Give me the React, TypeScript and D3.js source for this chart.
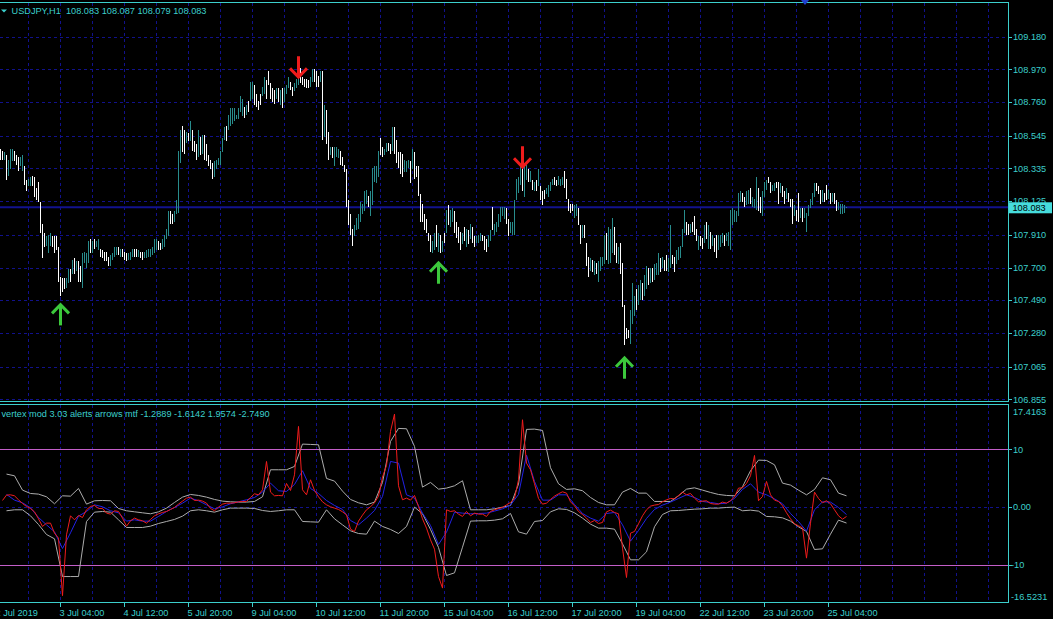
import React from 'react';
import * as d3 from 'd3';

// USDJPY H1 bar chart with "vertex mod" sub-window, MT4 style

const W = 1053;
const H = 619;
const FONT = '"Liberation Sans", Arial, sans-serif';
const FG = '#3ccfcc';
const GRID = '#11118c';
const BAR_UP = '#288c8c';
const BAR_DOWN = '#ffffff';

const symbolTitle = 'USDJPY,H1  108.083 108.087 108.079 108.083';
const subTitle = 'vertex mod 3.03 alerts arrows mtf -1.2889 -1.6142 1.9574 -2.7490';

// bar highs / lows (one per H1 bar, 2 Jul 22:00 .. 25 Jul)
const barHigh = [
  108.46,108.45,108.44,108.42,108.39,108.46,108.46,108.45,108.42,108.41,
  108.41,108.42,108.35,108.26,108.27,108.28,108.29,108.28,108.21,108.25,
  108.12,107.98,107.92,107.90,107.91,107.92,107.90,107.90,107.90,107.83,
  107.64,107.63,107.63,107.63,107.69,107.69,107.75,107.76,107.74,107.74,
  107.71,107.79,107.80,107.79,107.87,107.88,107.87,107.88,107.87,107.88,
  107.82,107.81,107.80,107.80,107.77,107.78,107.79,107.83,107.83,107.83,
  107.82,107.82,107.80,107.79,107.79,107.80,107.82,107.82,107.82,107.81,
  107.80,107.80,107.80,107.81,107.82,107.82,107.83,107.88,107.88,107.87,
  107.86,107.88,107.91,107.95,108.06,108.06,108.04,108.06,108.13,108.45,
  108.58,108.61,108.58,108.57,108.56,108.64,108.58,108.51,108.49,108.58,
  108.54,108.55,108.55,108.49,108.42,108.39,108.37,108.38,108.39,108.40,
  108.45,108.53,108.60,108.61,108.68,108.72,108.72,108.72,108.68,108.72,
  108.80,108.78,108.73,108.74,108.77,108.89,108.89,108.87,108.81,108.77,
  108.81,108.86,108.92,108.90,108.96,108.88,108.85,108.84,108.85,108.85,
  108.84,108.85,108.85,108.87,108.92,108.89,108.86,108.88,108.91,108.93,
  108.98,108.92,108.91,108.91,108.90,108.92,108.97,108.97,108.96,108.93,
  108.96,108.96,108.74,108.71,108.57,108.47,108.47,108.47,108.47,108.46,
  108.45,108.41,108.36,108.33,108.13,108.04,107.95,107.97,108.02,108.04,
  108.12,108.11,108.19,108.20,108.16,108.19,108.34,108.35,108.35,108.45,
  108.53,108.47,108.46,108.50,108.50,108.49,108.60,108.60,108.52,108.44,
  108.44,108.43,108.39,108.38,108.39,108.38,108.46,108.44,108.35,108.35,
  108.17,108.11,108.04,108.01,107.92,107.91,107.87,107.92,107.97,107.92,
  107.91,107.87,107.92,108.07,108.10,108.07,108.08,108.06,107.99,107.96,
  107.93,107.92,107.96,107.95,107.94,107.98,107.96,107.90,107.90,107.91,
  107.92,107.91,107.90,107.88,107.91,107.94,108.09,107.98,107.99,108.04,
  108.09,108.09,108.09,108.08,108.01,107.99,107.99,108.13,108.27,108.28,
  108.35,108.34,108.37,108.36,108.33,108.32,108.26,108.25,108.26,108.33,
  108.22,108.19,108.20,108.21,108.23,108.25,108.27,108.28,108.26,108.29,
  108.27,108.28,108.32,108.27,108.14,108.11,108.11,108.10,108.11,108.08,
  107.97,107.97,107.97,107.86,107.77,107.76,107.75,107.74,107.73,107.74,
  107.77,107.77,107.91,107.92,107.96,107.95,108.02,107.96,107.86,107.83,
  107.86,107.73,107.46,107.31,107.30,107.43,107.60,107.52,107.56,107.59,
  107.62,107.60,107.65,107.71,107.70,107.70,107.70,107.72,107.73,107.79,
  107.76,107.77,107.75,107.78,107.76,107.97,107.78,107.77,107.81,107.83,
  107.84,107.95,108.07,107.99,107.98,107.98,107.99,108.03,107.95,107.90,
  107.90,107.89,107.97,107.99,107.97,107.93,107.91,107.89,107.91,107.91,
  107.91,107.92,107.91,107.92,107.93,108.07,108.08,108.07,108.06,108.18,
  108.19,108.18,108.15,108.19,108.20,108.21,108.15,108.14,108.28,108.21,
  108.15,108.19,108.25,108.26,108.28,108.25,108.23,108.24,108.25,108.25,
  108.24,108.22,108.19,108.21,108.18,108.14,108.14,108.10,108.07,108.18,
  108.08,108.08,108.08,108.05,108.10,108.14,108.18,108.24,108.24,108.22,
  108.20,108.20,108.18,108.23,108.20,108.18,108.18,108.18,108.13,108.12,
  108.11,108.11,108.10,108.087,
];

const barLow = [
  108.39,108.39,108.39,108.26,108.29,108.33,108.38,108.38,108.36,108.32,
  108.35,108.32,108.23,108.19,108.22,108.22,108.22,108.15,108.13,108.12,
  107.92,107.76,107.83,107.84,107.79,107.84,107.83,107.79,107.81,107.61,
  107.52,107.54,107.56,107.57,107.60,107.61,107.66,107.66,107.68,107.61,
  107.61,107.57,107.73,107.70,107.73,107.79,107.79,107.82,107.83,107.81,
  107.77,107.76,107.74,107.74,107.71,107.71,107.75,107.77,107.78,107.78,
  107.77,107.77,107.75,107.74,107.75,107.75,107.77,107.77,107.77,107.77,
  107.76,107.75,107.76,107.76,107.77,107.77,107.78,107.79,107.81,107.81,
  107.81,107.82,107.83,107.88,107.90,107.98,107.98,107.99,108.04,108.05,
  108.37,108.44,108.43,108.50,108.51,108.51,108.45,108.44,108.39,108.41,
  108.42,108.43,108.39,108.38,108.35,108.33,108.27,108.28,108.33,108.36,
  108.36,108.44,108.52,108.51,108.58,108.61,108.62,108.64,108.65,108.65,
  108.70,108.67,108.66,108.68,108.70,108.77,108.78,108.74,108.73,108.71,
  108.74,108.80,108.81,108.78,108.87,108.78,108.76,108.75,108.78,108.76,
  108.74,108.72,108.76,108.81,108.85,108.84,108.80,108.83,108.85,108.87,
  108.88,108.87,108.86,108.85,108.85,108.86,108.89,108.89,108.86,108.86,
  108.89,108.52,108.54,108.49,108.39,108.42,108.40,108.35,108.41,108.40,
  108.36,108.35,108.31,108.09,107.97,107.91,107.84,107.90,107.94,107.95,
  107.99,108.04,108.06,108.11,108.09,108.03,108.10,108.25,108.24,108.28,
  108.42,108.41,108.42,108.44,108.45,108.43,108.45,108.43,108.37,108.34,
  108.30,108.28,108.31,108.31,108.34,108.24,108.33,108.27,108.28,108.16,
  107.99,107.99,107.94,107.92,107.87,107.80,107.79,107.81,107.83,107.80,
  107.79,107.80,107.86,107.92,107.97,107.96,107.99,107.92,107.89,107.86,
  107.81,107.85,107.87,107.83,107.85,107.88,107.86,107.83,107.86,107.86,
  107.87,107.87,107.81,107.80,107.83,107.87,107.94,107.91,107.93,107.96,
  107.99,108.03,108.01,107.98,107.90,107.92,107.91,107.91,108.13,108.18,
  108.23,108.19,108.15,108.26,108.25,108.25,108.20,108.19,108.19,108.22,
  108.13,108.10,108.14,108.17,108.15,108.19,108.23,108.23,108.22,108.23,
  108.22,108.23,108.21,108.14,108.06,108.05,108.06,108.02,108.03,107.97,
  107.85,107.89,107.89,107.71,107.64,107.68,107.67,107.65,107.66,107.61,
  107.68,107.71,107.72,107.75,107.72,107.73,107.79,107.78,107.73,107.72,
  107.66,107.45,107.20,107.24,107.25,107.21,107.34,107.39,107.43,107.46,
  107.49,107.49,107.52,107.56,107.59,107.60,107.61,107.62,107.65,107.65,
  107.67,107.70,107.68,107.68,107.67,107.70,107.72,107.67,107.72,107.75,
  107.76,107.83,107.92,107.91,107.91,107.92,107.93,107.91,107.87,107.81,
  107.84,107.82,107.86,107.88,107.82,107.82,107.84,107.80,107.76,107.81,
  107.83,107.86,107.84,107.87,107.84,107.81,107.97,107.99,107.99,108.03,
  108.12,108.12,108.09,108.10,108.11,108.11,108.09,108.08,108.07,108.06,
  108.05,108.03,108.15,108.20,108.24,108.18,108.19,108.19,108.21,108.11,
  108.18,108.15,108.11,108.14,108.12,108.09,107.98,108.03,108.00,107.99,
  108.02,107.99,108.02,107.93,108.03,108.08,108.10,108.15,108.19,108.17,
  108.11,108.12,108.12,108.13,108.14,108.11,108.12,108.11,108.06,108.07,
  108.04,108.04,108.05,108.079,
];

// u = bull bar, d = bear bar
const barDir = (
  'dduduuuddd' + 'uudduudddd' + 'ddduuudddd' + 'ddduududud' + 'duuuududuu' +
  'ddddduuuud' + 'uddduuuddu' + 'dduuuuuuud' + 'duuuudduuu' + 'uddududddu' +
  'duddddduuu' + 'uuuduuuuuu' + 'uududuuddd' + 'duudddddud' + 'uduuudduuu' +
  'ddddduuddd' + 'ududduduuu' + 'ddddddduuu' + 'uuuuduuuuu' + 'dduudduddd' +
  'dduuududdd' + 'dddddduudu' + 'dududuuddd' + 'dudududduu' + 'uddduuduuu' +
  'uuudduuuuu' + 'uduudududu' + 'ddduuuuddu' + 'uuddddduud' + 'dudddududu' +
  'uuuduuuddu' + 'ddddduuudu' + 'uduududuuu' + 'dudduudduu' + 'uuuddudddu' +
  'ddudududdu' + 'uuduuuuuuu' + 'udduuduuud' + 'duuudduudd' + 'uddudddudd' +
  'uduuuuuudd' + 'duddududdu' + 'uuuu'
).split('');

const lastPrice = 108.083;
const priceTicks = [109.18, 108.97, 108.76, 108.545, 108.335, 108.125, 107.91, 107.7, 107.49, 107.28, 107.065, 106.855];
const priceTickLabels = ['109.180', '108.970', '108.760', '108.545', '108.335', '108.125', '107.910', '107.700', '107.490', '107.280', '107.065', '106.855'];

const timeTickBars = [-2, 30, 62, 94, 126, 158, 190, 222, 254, 286, 318, 350, 382, 414];
const timeTickLabels = ['2 Jul 2019', '3 Jul 04:00', '4 Jul 12:00', '5 Jul 20:00', '9 Jul 04:00', '10 Jul 12:00',
  '11 Jul 20:00', '15 Jul 04:00', '16 Jul 12:00', '17 Jul 20:00', '19 Jul 04:00', '22 Jul 12:00', '23 Jul 20:00', '25 Jul 04:00'];

// signal arrows
const upArrowBars = [30, 219, 312];
const upArrowPrices = [107.47, 107.737, 107.128];
const downArrowBars = [149, 261];
const downArrowPrices = [108.913, 108.336];

// indicator: fast line (every 2nd bar), slow line and bands (every 4th bar)
const redLine = [
  1.15,2.08,2.13,1.96,1.27,0.63,0.12,-0.23,-0.81,-2.02,
  -3.34,-2.77,-2.77,-4.5,-5.36,-15.3,-4.79,-1.5,-2.19,-1.44,
  -1.79,-0.46,0.12,0.29,-0.23,-0.23,-1.04,-1.21,-0.63,-0.75,
  -1.9,-3.29,-2.36,-1.9,-2.19,-2.36,-2.77,-2.13,-1.5,-1.15,
  -0.92,-0.75,-0.4,-0.06,0.52,1.04,1.56,1.73,1.15,1.21,
  1.04,0.69,-0.23,-0.63,0,0.52,0.69,0.69,0.75,0.92,
  0.98,0.98,1.67,2.31,2.13,3.0,7.9,2.6,1.96,2.02,
  1.96,4.09,2.88,5.59,13.96,3.0,2.13,4.73,2.88,1.79,
  0.92,0.4,0.06,-0.17,-0.4,-0.81,-1.33,-3.81,-4.21,-2.42,
  -1.38,-0.46,0.06,0.75,1.9,5.19,7.21,13.09,16.09,3.69,
  1.27,1.56,1.21,2.02,0.12,-2.02,-3.63,-5.65,-7.27,-12.0,
  -14.0,-0.46,-0.75,-0.63,-1.21,-1.61,-0.75,-1.5,-1.04,-1.21,
  -1.21,-1.61,-0.75,-0.46,-0.23,-0.06,0.4,0.81,1.5,4.73,
  15.11,7.61,6.46,4.04,1.5,0.52,0.69,1.33,1.9,2.31,
  2.65,2.42,0.92,0.23,-0.75,-1.27,-1.9,-2.65,-2.31,-2.83,
  -2.65,-0.81,-0.52,-0.92,-1.15,-7.09,-12.17,-4.5,-4.21,-2.88,
  -1.5,-0.46,0.17,0.35,0.46,0.92,1.27,1.5,1.44,2.02,
  2.6,2.13,2.36,1.56,0.92,1.04,1.1,0.63,0.52,0.52,
  0.87,0.69,1.1,1.79,3.29,3.34,4.09,5.42,8.94,1.1,
  1.85,4.44,2.13,1.21,0.98,0.23,-0.98,-2.02,-2.88,-3.23,
  -3.58,-8.82,-2.77,2.6,1.5,0.75,1.1,0.58,-0.46,-1.5,
  -2.08,-1.6142,
];

const blueLine = [
  2.19,1.21,0.75,-0.12,-1.79,-3.06,-4.27,-7.15,-4.44,-1.56,
  -0.75,0.4,0.06,-0.63,-0.98,-2.42,-2.19,-2.42,-2.42,-1.61,
  -0.75,-0.06,0.69,1.56,1.1,0.4,-0.29,0.06,0.58,0.92,
  1.27,1.67,2.6,4.15,2.83,2.71,3.92,6.29,3.23,2.36,
  1.15,0.29,-0.4,-2.31,-3.06,-1.9,-0.58,1.85,7.9,7.61,
  2.13,1.56,-1.04,-3.17,-6.46,-4.33,-0.87,-1.04,-1.15,-1.1,
  -1.04,-0.69,-0.29,0.35,2.19,9.0,4.44,1.21,1.21,2.13,
  2.13,0.46,-1.1,-1.9,-2.42,-1.1,-0.92,-3.06,-5.88,-4.04,
  -1.96,-0.4,0.35,0.87,1.5,2.13,1.67,0.98,0.81,0.58,
  0.69,1.5,3.06,4.04,2.6,2.13,1.44,0.58,-1.1,-2.48,
  -4.15,-0.46,0.92,0.87,-0.06,-1.2889,
];

const upperBand = [
  5.71,5.42,2.94,2.36,2.25,1.79,0.58,1.96,1.9,3.23,
  0.52,1.1,1.15,1.1,-0.23,-0.63,-0.81,-0.98,-1.15,-0.81,
  -0.17,0.81,1.73,2.19,2.02,1.73,1.33,1.04,0.92,0.87,
  0.87,0.98,1.79,6.46,6.46,6.46,7.04,10.9,10.84,10.78,
  4.96,4.5,2.77,1.33,0.75,0.4,0.87,4.27,11.36,13.61,
  13.55,10.5,3.46,4.27,3.11,3.29,3.69,4.56,-0.46,-0.46,
  -0.46,-0.29,0,0.29,3.98,13.44,13.49,13.26,6.81,4.04,
  3.06,3.17,2.83,1.67,0.81,0.4,0.4,2.6,3.23,2.42,
  2.42,0.98,0.98,0.98,1.96,3.11,3.34,2.94,2.54,2.19,
  2.02,1.96,3.52,6.29,8.13,8.07,7.32,4.15,3.81,2.94,
  2.13,3.06,5.07,4.73,2.42,1.9574,
];

const lowerBand = [
  -0.63,-0.46,-0.46,-1.5,-3.0,-4.73,-5.48,-12.0,-12.0,-12.0,
  -2.48,-0.87,-0.75,-0.87,-2.19,-3.52,-3.52,-3.52,-3.29,-2.83,
  -2.48,-2.13,-1.56,-0.63,-0.46,-0.63,-0.87,-0.46,-0.17,-0.17,
  -0.17,-0.23,-0.58,-0.75,-0.63,-0.46,-0.46,-2.48,-2.54,-2.6,
  -0.46,-2.02,-3.06,-4.09,-4.56,-4.67,-2.42,-3.34,-3.86,-4.56,
  -3.34,0,-1.15,-3.86,-6.98,-11.82,-11.36,-6.92,-2.42,-2.36,
  -2.36,-2.25,-2.02,-1.1,-4.27,-4.67,-2.48,-2.31,-0.81,-0.29,
  -0.4,-0.98,-1.9,-2.94,-3.63,-3.63,-3.81,-6.34,-9.11,-9.11,
  -7.73,-3.4,-1.27,-0.63,-0.58,-0.46,-0.35,-0.29,-0.17,-0.17,
  -0.06,0,-0.63,-0.52,-0.69,-1.61,-1.67,-1.85,-2.42,-3.4,
  -4.21,-7.32,-7.21,-4.67,-2.25,-2.749,
];

const subMax = 17.4163;
const subMin = -16.5231;
const levelValues = [10, -10];

const PANE_R = 1008.5;
const MAIN_TOP = 2.5;
const MAIN_BOT = 401.5;
const SUB_TOP = 404.5;
const SUB_BOT = 602.5;

const Arrow: React.FC<{ x: number; y: number; down?: boolean; color: string }> = ({ x, y, down, color }) => (
  <g transform={`translate(${x},${y}) scale(1,${down ? -1 : 1})`} fill="none" stroke={color} strokeWidth={3}>
    <path d="M0,1 V22" />
    <path d="M-8.5,10 L0,1.2 L8.5,10" strokeLinejoin="miter" />
  </g>
);

export default function App() {
  const x = d3.scaleLinear().domain([0, 423]).range([0.5, 846.5]);
  const y = d3.scaleLinear().domain([106.855, 109.18]).range([399.3, 36.7]);
  const ys = d3.scaleLinear().domain([subMin, subMax]).range([602.7, 406.4]);

  const gridBars = d3.range(14, 500, 16).filter(b => x(b) < PANE_R - 2);

  const fastPath = d3.line<number>().x((_, j) => x(2 * j + 1)).y(v => ys(v))(redLine) || '';
  const slowLine = d3.line<number>().x((_, k) => x(4 * k + 3)).y(v => ys(v));
  const bluePath = slowLine(blueLine) || '';
  const upperPath = slowLine(upperBand) || '';
  const lowerPath = slowLine(lowerBand) || '';

  const yLast = y(lastPrice);
  const txt = { fontFamily: FONT, fontSize: 9.2, fill: FG } as const;

  return (
    <svg width={W} height={H} style={{ position: 'absolute', left: 0, top: 0, display: 'block' }}>
      <defs>
        <clipPath id="mainClip"><rect x={0} y={MAIN_TOP + 0.5} width={PANE_R} height={MAIN_BOT - MAIN_TOP - 1} /></clipPath>
        <clipPath id="subClip"><rect x={0} y={SUB_TOP + 0.5} width={PANE_R} height={SUB_BOT - SUB_TOP - 1} /></clipPath>
      </defs>
      <rect x={0} y={0} width={W} height={H} fill="#000" />

      {/* main pane grid */}
      <g clipPath="url(#mainClip)" stroke={GRID} strokeWidth={1} strokeDasharray="3,3" shapeRendering="crispEdges">
        {priceTicks.map((p, i) => (
          <line key={'h' + i} x1={0} x2={PANE_R} y1={Math.round(y(p)) + 0.5} y2={Math.round(y(p)) + 0.5} />
        ))}
        {gridBars.map(b => (
          <line key={'v' + b} x1={x(b)} x2={x(b)} y1={MAIN_TOP} y2={MAIN_BOT} />
        ))}
      </g>

      {/* price line */}
      <line x1={0} x2={PANE_R} y1={yLast - 0.5} y2={yLast - 0.5} stroke="#12128e" strokeWidth={2} />

      {/* bars */}
      <g clipPath="url(#mainClip)" shapeRendering="crispEdges" strokeWidth={1}>
        {barHigh.map((hi, i) => {
          const lo = barLow[i];
          const y1 = y(hi);
          let y2 = y(lo);
          if (y2 - y1 < 1) y2 = y1 + 1;
          return (
            <line key={i} x1={x(i)} x2={x(i)} y1={y1} y2={y2}
              stroke={barDir[i] === 'd' ? BAR_DOWN : BAR_UP} />
          );
        })}
      </g>

      {/* signal arrows */}
      <g clipPath="url(#mainClip)">
        {upArrowBars.map((b, i) => (
          <Arrow key={'u' + i} x={x(b)} y={y(upArrowPrices[i])} color="#3cc83c" />
        ))}
        {downArrowBars.map((b, i) => (
          <Arrow key={'d' + i} x={x(b)} y={y(downArrowPrices[i])} down color="#ee1c1c" />
        ))}
      </g>

      {/* sub window grid and levels */}
      <g clipPath="url(#subClip)" shapeRendering="crispEdges">
        <g stroke={GRID} strokeWidth={1} strokeDasharray="3,3">
          <line x1={0} x2={PANE_R} y1={Math.round(ys(0)) + 0.5} y2={Math.round(ys(0)) + 0.5} />
          {gridBars.map(b => (
            <line key={'sv' + b} x1={x(b)} x2={x(b)} y1={SUB_TOP} y2={SUB_BOT} />
          ))}
        </g>
        {levelValues.map(v => (
          <line key={'l' + v} x1={0} x2={PANE_R} y1={Math.round(ys(v)) + 0.5} y2={Math.round(ys(v)) + 0.5}
            stroke="#c25ec8" strokeWidth={1} />
        ))}
      </g>

      {/* indicator lines */}
      <g clipPath="url(#subClip)" fill="none" strokeWidth={1} strokeLinejoin="round">
        <path d={upperPath} stroke="#acacac" />
        <path d={lowerPath} stroke="#acacac" />
        <path d={bluePath} stroke="#2222e6" />
        <path d={fastPath} stroke="#f01c1c" />
      </g>

      {/* frames */}
      <g stroke={FG} strokeWidth={1} fill="none" shapeRendering="crispEdges">
        <line x1={0} x2={PANE_R} y1={MAIN_TOP} y2={MAIN_TOP} />
        <line x1={0} x2={PANE_R} y1={MAIN_BOT} y2={MAIN_BOT} />
        <line x1={PANE_R} x2={PANE_R} y1={MAIN_TOP} y2={MAIN_BOT} />
        <line x1={0} x2={PANE_R} y1={SUB_TOP} y2={SUB_TOP} />
        <line x1={0} x2={PANE_R} y1={SUB_BOT} y2={SUB_BOT} />
        <line x1={PANE_R} x2={PANE_R} y1={SUB_TOP} y2={SUB_BOT} />
        {priceTicks.map((p, i) => (
          <line key={'pt' + i} x1={PANE_R} x2={PANE_R + 3} y1={Math.round(y(p)) + 0.5} y2={Math.round(y(p)) + 0.5} />
        ))}
        {[10, 0, -10].map(v => (
          <line key={'st' + v} x1={PANE_R} x2={PANE_R + 3} y1={Math.round(ys(v)) + 0.5} y2={Math.round(ys(v)) + 0.5} />
        ))}
        {timeTickBars.map(b => (
          <line key={'tt' + b} x1={x(b)} x2={x(b)} y1={SUB_BOT} y2={SUB_BOT + 4} />
        ))}
      </g>

      {/* price axis labels */}
      {priceTicks.map((p, i) => (
        <text key={'pl' + i} x={1013} y={y(p)} dy="0.35em" {...txt}>{priceTickLabels[i]}</text>
      ))}
      <rect x={1009} y={yLast - 5.5} width={43} height={11} fill="#46dcdc" />
      <text x={1012.5} y={yLast} dy="0.35em" {...txt} fill="#000">{lastPrice.toFixed(3)}</text>

      {/* sub axis labels */}
      <text x={1013} y={ys(subMax) + 5} dy="0.35em" {...txt}>{subMax.toFixed(4)}</text>
      <text x={1013} y={ys(10)} dy="0.35em" {...txt}>10</text>
      <text x={1013} y={ys(0)} dy="0.35em" {...txt}>0.00</text>
      <text x={1011} y={ys(-10)} dy="0.35em" {...txt}>-10</text>
      <text x={1011} y={ys(subMin) - 6} dy="0.35em" {...txt}>{subMin.toFixed(4)}</text>

      {/* time axis labels */}
      {timeTickBars.map((b, i) => (
        <text key={'tl' + i} x={x(b) - 1} y={615.5} {...txt}>{timeTickLabels[i]}</text>
      ))}

      {/* titles */}
      <polygon points="1,9.5 7,9.5 4,12.5" fill={FG} />
      <text x={11.5} y={14} {...txt} style={{ whiteSpace: 'pre' }}>{symbolTitle}</text>
      <text x={1.5} y={416.5} {...txt} style={{ whiteSpace: 'pre' }}>{subTitle}</text>
      <polygon points="801,0 809,0 805,5" fill="#2040d0" />
    </svg>
  );
}
